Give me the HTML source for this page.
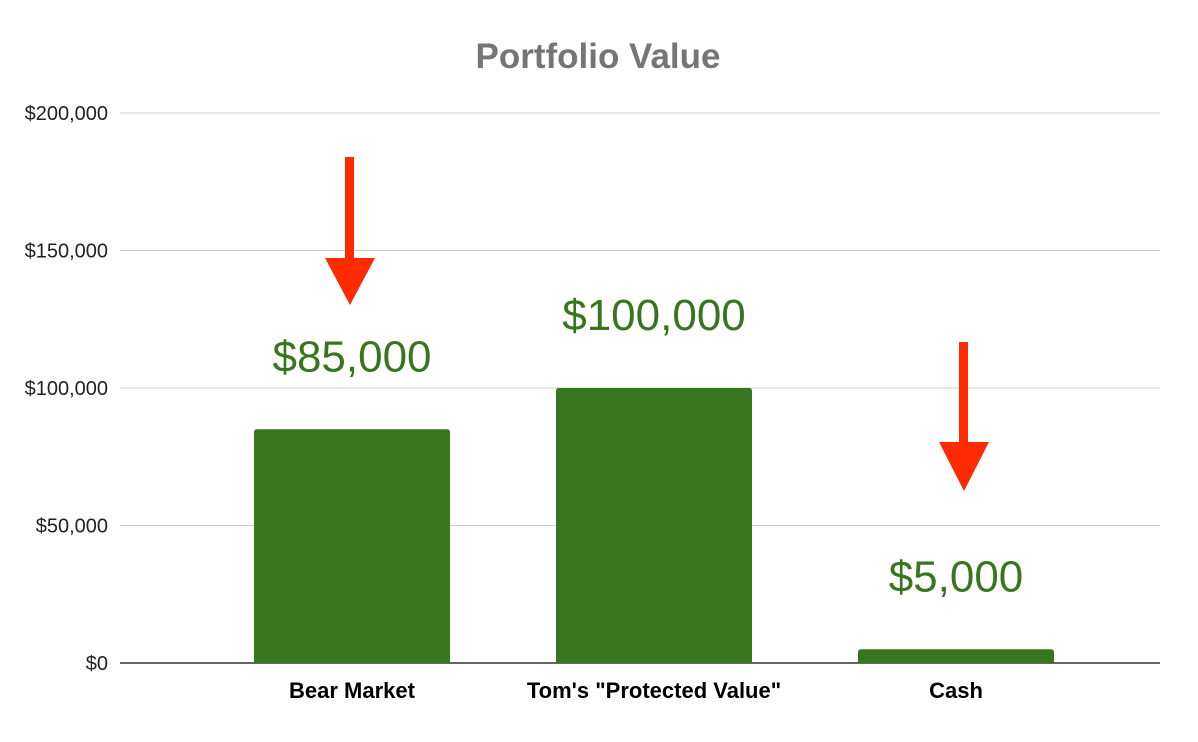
<!DOCTYPE html>
<html><head><meta charset="utf-8"><style>
body{margin:0;background:#fff;}
svg{display:block;font-family:"Liberation Sans",Arial,sans-serif;}
</style></head><body>
<svg id="chart" width="1198" height="742" viewBox="0 0 1198 742">
<text x="598" y="68" text-anchor="middle" font-size="35" font-weight="bold" fill="#757575">Portfolio Value</text>
<g id="grid"></g><g id="bars"></g><g id="labels"></g>
<g>
<rect x="345" y="157" width="9" height="102" fill="#ff2a00"/>
<polygon points="325,258 375,258 350,305" fill="#ff2a00"/>
</g>
<g>
<rect x="959" y="342" width="9" height="101" fill="#ff2a00"/>
<polygon points="939,442 989,442 964,491" fill="#ff2a00"/>
</g>
</svg>
<script>
const categories=["Bear Market","Tom's \"Protected Value\"","Cash"];
const values=[85000,100000,5000];
const valueLabels=["$85,000","$100,000","$5,000"];
const ticks=[0,50000,100000,150000,200000];
const tickLabels=["$0","$50,000","$100,000","$150,000","$200,000"];
const NS="http://www.w3.org/2000/svg";
const y0=663,y1=113,vmax=200000;
const y=v=>y0-(v/vmax)*(y0-y1);
const xc=i=>352+i*302;
const bw=196;
const grid=document.getElementById('grid'),bars=document.getElementById('bars'),labels=document.getElementById('labels');
function mk(t,a){const e=document.createElementNS(NS,t);for(const k in a)e.setAttribute(k,a[k]);return e;}
ticks.forEach((t,i)=>{
 const l=mk('line',{x1:120,x2:1160,y1:y(t),y2:y(t),stroke:t===0?'#333':'#ccc','stroke-width':t===0?1.5:1});
 
 
 grid.appendChild(l);
 const tx=mk('text',{x:108,y:y(t)+7,'text-anchor':'end','font-size':20,fill:'#222'});
 tx.textContent=tickLabels[i];
 
 
 grid.appendChild(tx);
});
values.forEach((v,i)=>{
 const top=y(v);
 const r=mk('path',{d:`M${xc(i)-bw/2},${y0} V${top+3} Q${xc(i)-bw/2},${top} ${xc(i)-bw/2+3},${top} H${xc(i)+bw/2-3} Q${xc(i)+bw/2},${top} ${xc(i)+bw/2},${top+3} V${y0} Z`,fill:'#38761d'});
 
 
 bars.appendChild(r);
 const vl=mk('text',{x:xc(i),y:top-58,'text-anchor':'middle','font-size':44,fill:'#38761d'});
 vl.textContent=valueLabels[i];
 
 
 labels.appendChild(vl);
 const cl=mk('text',{x:xc(i),y:698,'text-anchor':'middle','font-size':22,'font-weight':'bold',fill:'#000'});
 cl.textContent=categories[i];
 
 
 labels.appendChild(cl);
});
</script>
</body></html>
